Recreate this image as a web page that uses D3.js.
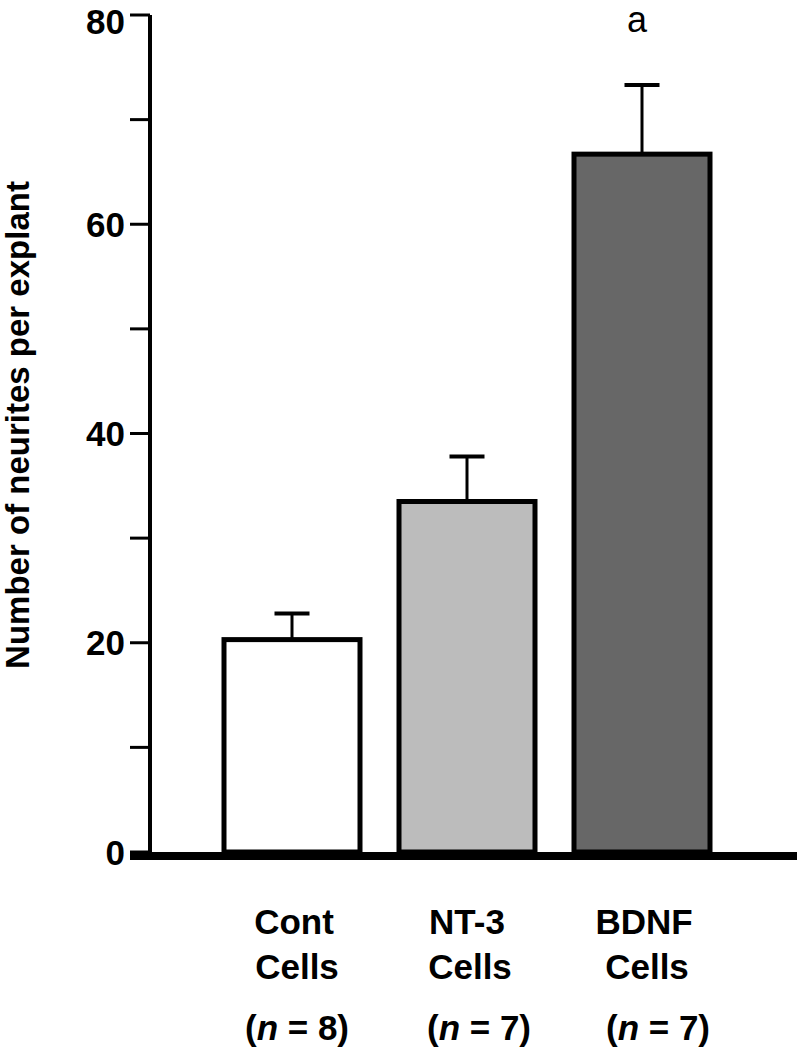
<!DOCTYPE html>
<html>
<head>
<meta charset="utf-8">
<script src="https://cdn.jsdelivr.net/npm/d3@7"></script>
<style>
  html, body { margin: 0; padding: 0; background: #fff; }
  svg { display: block; font-family: "Liberation Sans", Arial, Helvetica, sans-serif; }
</style>
</head>
<body>
<svg id="chart" width="798" height="1050"></svg>
<script>
const categories = ["Cont", "NT-3", "BDNF"];
const line2Labels = ["Cells", "Cells", "Cells"];
const nValues = [8, 7, 7];
const means = [20.3, 33.5, 66.7];
const errUpper = [22.8, 37.8, 73.3];
const fills = ["#ffffff", "#bcbcbc", "#676767"];
const significance = ["", "", "a"];
const yTicksMajor = [0, 20, 40, 60, 80];
const yTicksAll = [0, 10, 20, 30, 40, 50, 60, 70, 80];
const yLabel = "Number of neurites per explant";

const svg = d3.select("#chart");

const y = d3.scaleLinear().domain([0, 80]).range([852, 15]);
const x = d3.scalePoint().domain(categories).range([292, 642]);
const barW = 136;
const capW = 35;
const axisX = 150;

svg.append("line")
  .attr("x1", axisX).attr("x2", axisX)
  .attr("y1", y(80)).attr("y2", y(0))
  .attr("stroke", "#000").attr("stroke-width", 4);

svg.selectAll(".tick").data(yTicksAll).enter().append("line")
  .attr("x1", 130).attr("x2", axisX)
  .attr("y1", d => y(d)).attr("y2", d => y(d))
  .attr("stroke", "#000").attr("stroke-width", 3);

svg.selectAll(".tl").data(yTicksMajor).enter().append("text")
  .attr("x", 125).attr("y", d => Math.max(y(d), 21))
  .attr("dy", "0.36em")
  .attr("text-anchor", "end")
  .attr("font-size", 35).attr("font-weight", "bold")
  .text(d => d);

svg.selectAll(".bar").data(categories).enter().append("rect")
  .attr("x", d => x(d) - barW / 2)
  .attr("y", (d, i) => y(means[i]))
  .attr("width", barW)
  .attr("height", (d, i) => y(0) - y(means[i]))
  .attr("fill", (d, i) => fills[i])
  .attr("stroke", "#000").attr("stroke-width", 5);

svg.selectAll(".stem").data(categories).enter().append("line")
  .attr("x1", d => x(d)).attr("x2", d => x(d))
  .attr("y1", (d, i) => y(means[i])).attr("y2", (d, i) => y(errUpper[i]))
  .attr("stroke", "#000").attr("stroke-width", 3);
svg.selectAll(".cap").data(categories).enter().append("line")
  .attr("x1", d => x(d) - capW / 2).attr("x2", d => x(d) + capW / 2)
  .attr("y1", (d, i) => y(errUpper[i])).attr("y2", (d, i) => y(errUpper[i]))
  .attr("stroke", "#000").attr("stroke-width", 4);

svg.append("line")
  .attr("x1", 130).attr("x2", 797)
  .attr("y1", y(0) + 4).attr("y2", y(0) + 4)
  .attr("stroke", "#000").attr("stroke-width", 8);

svg.selectAll(".sig").data(categories).enter().append("text")
  .attr("x", d => x(d) - 5)
  .attr("y", 32)
  .attr("text-anchor", "middle")
  .attr("font-size", 36)
  .text((d, i) => significance[i]);

const labelShift = [2, 0, 2];
const nShift = [5, 12, 16];
svg.selectAll(".cl1").data(categories).enter().append("text")
  .attr("x", (d, i) => x(d) + labelShift[i]).attr("y", 934)
  .attr("text-anchor", "middle")
  .attr("font-size", 35).attr("font-weight", "bold")
  .text(d => d);
svg.selectAll(".cl2").data(categories).enter().append("text")
  .attr("x", (d, i) => x(d) + labelShift[i] + 3).attr("y", 979)
  .attr("text-anchor", "middle")
  .attr("font-size", 35).attr("font-weight", "bold")
  .text((d, i) => line2Labels[i]);
const nl = svg.selectAll(".nl").data(categories).enter().append("text")
  .attr("x", (d, i) => x(d) + nShift[i]).attr("y", 1040)
  .attr("text-anchor", "middle")
  .attr("font-size", 35).attr("font-weight", "bold");
nl.append("tspan").text("(");
nl.append("tspan").attr("font-style", "italic").text("n");
nl.append("tspan").text((d, i) => " = " + nValues[i] + ")");

svg.append("text")
  .attr("transform", "translate(29," + 425 + ") rotate(-90)")
  .attr("text-anchor", "middle")
  .attr("font-size", 33).attr("font-weight", "bold")
  .text(yLabel);
</script>
</body>
</html>
